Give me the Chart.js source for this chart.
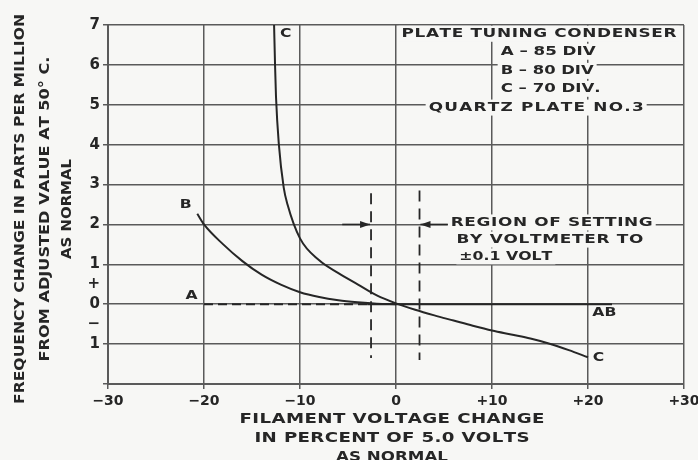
<!DOCTYPE html>
<html>
<head>
<meta charset="utf-8">
<script src="https://cdn.jsdelivr.net/npm/chart.js@4"></script>
<style>
  html, body { margin: 0; padding: 0; background: #f7f7f5; }
  #wrap { width: 698px; height: 460px; }
</style>
</head>
<body>
<div id="wrap"><canvas id="myChart" width="698" height="460"></canvas></div>
<script>
// values (x = % filament voltage change, y = ppm)
const curveAx = [-20, -3, 22.5];
const curveAy = [0, 0, 0];

const curveBx = [-20.7, -20, -18, -16, -14, -12, -10, -8, -6, -4, -2, 0];
const curveBy = [2.27, 2.0, 1.5, 1.08, 0.74, 0.49, 0.3, 0.18, 0.1, 0.05, 0.015, 0];

const curveCx = [-12.7, -12.6, -12.5, -12.2, -11.7, -11.3, -10, -8, -6, -4, -2, 0, 2, 4, 6, 8, 10, 12, 14, 16, 18, 20];
const curveCy = [7, 6, 5.2, 4.0, 2.93, 2.5, 1.65, 1.1, 0.78, 0.5, 0.22, 0.02, -0.14, -0.28, -0.41, -0.54, -0.66, -0.76, -0.86, -0.99, -1.15, -1.33];

// region of setting (dashed limits)
const limitLowX = [-2.6, -2.6];
const limitLowY = [2.78, -1.35];
const limitHighX = [2.45, 2.45];
const limitHighY = [2.85, -1.4];

const xTickValues = [-30, -20, -10, 0, 10, 20, 30];
const xTickLabels = ["\u221230", "\u221220", "\u221210", "0", "+10", "+20", "+30"];
const yTickValues = [-2, -1, -0.5, 0, 0.5, 1, 2, 3, 4, 5, 6, 7];
const yTickLabels = ["", "1", "\u2212", "0", "+", "1", "2", "3", "4", "5", "6", "7"];

const ink = "#262626";
const gridInk = "#5a5a5a";
const paper = "#f7f7f5";
const fontFam = "'DejaVu Sans', sans-serif";

function pts(xs, ys) {
  return xs.map((x, i) => ({ x: x, y: ys[i] }));
}

// text notes placed in data space; w = drawn width in px
const notes = [
  { text: "PLATE TUNING CONDENSER", x: 14.9, y: 6.78, w: 275, align: "center", bg: true },
  { text: "A \u2013 85 DIV", x: 10.9, y: 6.33, w: 95, align: "left", bg: true },
  { text: "B \u2013 80 DIV", x: 10.9, y: 5.85, w: 93, align: "left", bg: true },
  { text: "C \u2013 70 DIV.", x: 10.9, y: 5.4, w: 100, align: "left", bg: true },
  { text: "QUARTZ PLATE NO.3", x: 14.6, y: 4.93, w: 215, align: "center", bg: true },
  { text: "REGION OF SETTING", x: 5.7, y: 2.05, w: 202, align: "left", bg: true },
  { text: "BY VOLTMETER TO", x: 6.3, y: 1.62, w: 187, align: "left", bg: true },
  { text: "\u00B10.1 VOLT", x: 6.6, y: 1.2, w: 93, align: "left", bg: true },
  { text: "A", x: -21.3, y: 0.22, w: 0, align: "center" },
  { text: "B", x: -21.9, y: 2.5, w: 0, align: "center" },
  { text: "C", x: -11.5, y: 6.78, w: 0, align: "center" },
  { text: "AB", x: 21.7, y: -0.2, w: 24, align: "center" },
  { text: "C", x: 20.5, y: -1.33, w: 0, align: "left" }
];

// arrows at y = 2: [fromX, toX]
const arrows = [[-5.6, -2.7], [5.4, 2.55]];

// draws text stretched horizontally (wide lettering) to a target width
function spacedText(ctx, text, x, y, w, align) {
  const chars = Array.from(text);
  const widths = chars.map(c => ctx.measureText(c).width);
  const natural = widths.reduce((a, b) => a + b, 0);
  let sx = 1.2;
  let gap = 0;
  if (w > 0) {
    sx = Math.min(w / natural, 1.3);
    if (chars.length > 1) gap = (w - natural * sx) / (chars.length - 1);
  }
  const total = natural * sx + gap * (chars.length - 1);
  let cx = x;
  if (align === "center") cx = x - total / 2;
  if (align === "right") cx = x - total;
  ctx.textAlign = "left";
  chars.forEach((c, i) => {
    ctx.save();
    ctx.translate(cx, y);
    ctx.scale(sx, 1);
    ctx.fillText(c, 0, 0);
    ctx.restore();
    cx += widths[i] * sx + gap;
  });
}

const notesPlugin = {
  id: "notes",
  beforeDatasetsDraw(chart) {
    const ctx = chart.ctx;
    const xs = chart.scales.x, ys = chart.scales.y;
    ctx.save();
    ctx.fillStyle = paper;
    notes.filter(n => n.bg).forEach(n => {
      const px = xs.getPixelForValue(n.x), py = ys.getPixelForValue(n.y);
      let left = px;
      if (n.align === "center") left = px - n.w / 2;
      ctx.fillRect(left - 3, py - 8, n.w + 6, 16);
    });
    ctx.restore();
  },
  afterDatasetsDraw(chart) {
    const ctx = chart.ctx;
    const xs = chart.scales.x, ys = chart.scales.y;
    ctx.save();
    ctx.fillStyle = ink;
    ctx.font = "bold 13px " + fontFam;
    ctx.textBaseline = "middle";
    notes.forEach(n => {
      const px = xs.getPixelForValue(n.x), py = ys.getPixelForValue(n.y);
      spacedText(ctx, n.text, px, py, n.w, n.align);
    });

    // arrows
    ctx.strokeStyle = ink;
    ctx.lineWidth = 1.6;
    arrows.forEach(a => {
      const x0 = xs.getPixelForValue(a[0]), x1 = xs.getPixelForValue(a[1]);
      const y = ys.getPixelForValue(2);
      const dir = x1 > x0 ? 1 : -1;
      ctx.beginPath();
      ctx.moveTo(x0, y);
      ctx.lineTo(x1, y);
      ctx.stroke();
      ctx.beginPath();
      ctx.moveTo(x1, y);
      ctx.lineTo(x1 - dir * 10, y - 3.5);
      ctx.lineTo(x1 - dir * 10, y + 3.5);
      ctx.closePath();
      ctx.fill();
    });

    // axis titles
    ctx.font = "bold 14px " + fontFam;
    const yTitle = [
      { text: "FREQUENCY CHANGE IN PARTS PER MILLION", x: 20, w: 390 },
      { text: "FROM ADJUSTED VALUE AT 50\u00B0 C.", x: 45, w: 305 },
      { text: "AS NORMAL", x: 67, w: 100 }
    ];
    yTitle.forEach(t => {
      ctx.save();
      ctx.translate(t.x, 209);
      ctx.rotate(-Math.PI / 2);
      spacedText(ctx, t.text, 0, 0, t.w, "center");
      ctx.restore();
    });
    const xTitle = [
      { text: "FILAMENT VOLTAGE CHANGE", y: 419, w: 305 },
      { text: "IN PERCENT OF 5.0 VOLTS", y: 438, w: 275 },
      { text: "AS NORMAL", y: 457, w: 112 }
    ];
    xTitle.forEach(t => spacedText(ctx, t.text, 392, t.y, t.w, "center"));
    ctx.restore();
  }
};

const lineStyle = {
  showLine: true,
  pointRadius: 0,
  borderColor: ink,
  borderWidth: 2,
  fill: false
};

const ctx = document.getElementById("myChart");

new Chart(ctx, {
  type: "scatter",
  data: {
    datasets: [
      Object.assign({}, lineStyle, {
        label: "A",
        data: pts(curveAx, curveAy),
        segment: {
          borderDash: c => (c.p0.parsed.x < -3.5 ? [9, 5] : undefined)
        }
      }),
      Object.assign({}, lineStyle, { label: "B", data: pts(curveBx, curveBy), cubicInterpolationMode: "monotone" }),
      Object.assign({}, lineStyle, { label: "C", data: pts(curveCx, curveCy), cubicInterpolationMode: "monotone" }),
      Object.assign({}, lineStyle, { label: "low", data: pts(limitLowX, limitLowY), borderDash: [11, 7], borderWidth: 1.8 }),
      Object.assign({}, lineStyle, { label: "high", data: pts(limitHighX, limitHighY), borderDash: [11, 7], borderWidth: 1.8 })
    ]
  },
  options: {
    responsive: false,
    animation: false,
    layout: { padding: { top: 25, right: 14, left: 0, bottom: 0 } },
    plugins: {
      legend: { display: false },
      tooltip: { enabled: false }
    },
    scales: {
      x: {
        type: "linear",
        min: -30,
        max: 30,
        afterBuildTicks: s => { s.ticks = xTickValues.map(v => ({ value: v })); },
        afterFit: s => { s.height = 76; s.paddingLeft = 0; s.paddingRight = 0; },
        ticks: {
          color: ink,
          padding: 4,
          maxRotation: 0,
          font: { family: fontFam, size: 14, weight: "bold" },
          callback: v => xTickLabels[xTickValues.indexOf(v)]
        },
        grid: { color: gridInk, lineWidth: 1.5, tickLength: 5 },
        border: { color: gridInk, width: 2 }
      },
      y: {
        type: "linear",
        min: -2,
        max: 7,
        afterBuildTicks: s => { s.ticks = yTickValues.map(v => ({ value: v })); },
        afterFit: s => { s.width = 108; s.paddingTop = 0; s.paddingBottom = 0; },
        ticks: {
          color: ink,
          padding: 3,
          font: { family: fontFam, size: 15, weight: "bold" },
          callback: v => yTickLabels[yTickValues.indexOf(v)]
        },
        grid: {
          color: c => (Number.isInteger(c.tick.value) ? gridInk : "rgba(0,0,0,0)"),
          lineWidth: 1.5,
          tickLength: 5
        },
        border: { color: gridInk, width: 2 }
      }
    }
  },
  plugins: [notesPlugin]
});
</script>
</body>
</html>
